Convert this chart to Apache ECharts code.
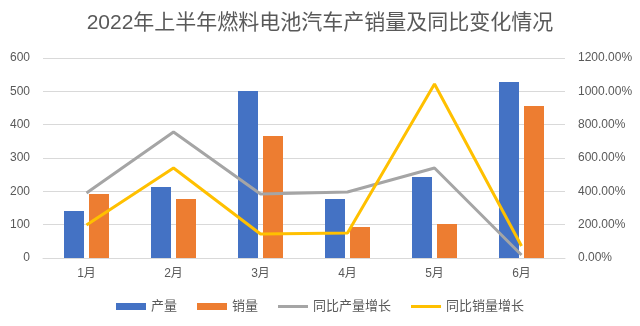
<!DOCTYPE html>
<html><head><meta charset="utf-8">
<script src="https://cdn.jsdelivr.net/npm/echarts@6/dist/echarts.min.js"></script>
<style>html,body{margin:0;padding:0;background:#fff}#c{width:640px;height:326px}</style>
</head><body><div id="c"></div>
<script>
var categories = ['1月','2月','3月','4月','5月','6月'];
var production = [141, 213, 501, 177, 243, 528];
var sales = [192, 177, 366, 93, 102, 456];
var prodGrowth = [390, 756, 384, 396, 540, 18];
var salesGrowth = [198, 540, 144, 150, 1044, 72];
var FONT = "'Liberation Sans','Noto Sans CJK SC',sans-serif";
var LINE_ICON = 'path://M0,0 L30,0 L30,3 L0,3 Z';
var chart = echarts.init(document.getElementById('c'));
chart.setOption({
  animation: false,
  textStyle: {fontFamily: FONT},
  title: {text: '2022年上半年燃料电池汽车产销量及同比变化情况', left: 'center', top: 8,
    textStyle: {fontFamily: FONT, fontSize: 21, fontWeight: 'normal', color: '#595959'}},
  legend: {bottom: 8, itemWidth: 30, itemHeight: 7, itemGap: 20,
    textStyle: {fontFamily: FONT, fontSize: 13, color: '#595959'},
    data: [{name:'产量', icon:'rect'}, {name:'销量', icon:'rect'},
           {name:'同比产量增长', icon: LINE_ICON}, {name:'同比销量增长', icon: LINE_ICON}]},
  grid: {left: 43, right: 75, top: 58, bottom: 68},
  xAxis: {type: 'category', data: categories,
    axisLine: {lineStyle: {color: '#d9d9d9'}}, axisTick: {show: false},
    axisLabel: {color: '#595959', fontSize: 12, margin: 10}},
  yAxis: [
    {type: 'value', min: 0, max: 600, interval: 100,
     axisLabel: {color: '#595959', fontSize: 12, margin: 13},
     splitLine: {lineStyle: {color: '#d9d9d9'}}, axisLine: {show: false}},
    {type: 'value', min: 0, max: 1200, interval: 200,
     axisLabel: {color: '#595959', fontSize: 12, margin: 13, formatter: function(v){return v.toFixed(2)+'%';}},
     splitLine: {show: false}, axisLine: {show: false}}
  ],
  series: [
    {name: '产量', type: 'bar', data: production, barWidth: 20, barGap: '25%', itemStyle: {color: '#4472c4'}},
    {name: '销量', type: 'bar', data: sales, barWidth: 20, barGap: '25%', itemStyle: {color: '#ed7d31'}},
    {name: '同比产量增长', type: 'line', yAxisIndex: 1, data: prodGrowth, symbol: 'none',
     lineStyle: {color: '#a5a5a5', width: 3}, itemStyle: {color: '#a5a5a5'}},
    {name: '同比销量增长', type: 'line', yAxisIndex: 1, data: salesGrowth, symbol: 'none',
     lineStyle: {color: '#ffc000', width: 3}, itemStyle: {color: '#ffc000'}}
  ]
});
</script></body></html>
